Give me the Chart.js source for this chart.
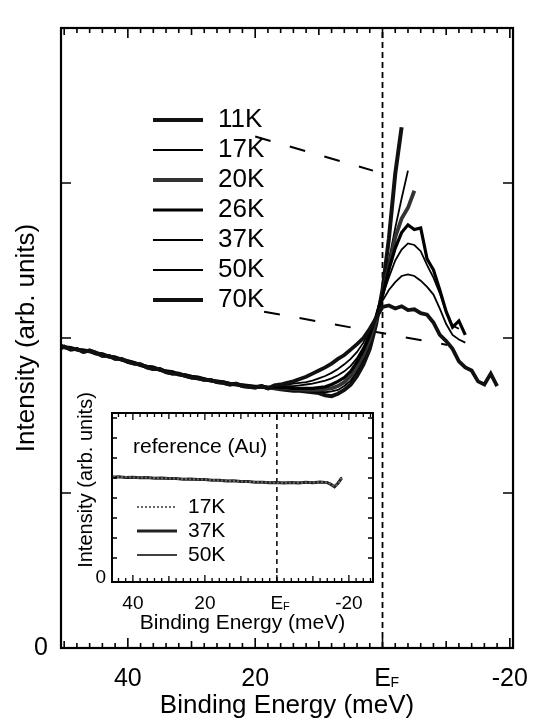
<!DOCTYPE html>
<html><head><meta charset="utf-8">
<script src="https://cdn.jsdelivr.net/npm/chart.js@4.4.0/dist/chart.umd.min.js"></script>
<style>
html,body{margin:0;padding:0;background:#fff;}
#wrap{position:relative;width:544px;height:721px;overflow:hidden;}
#main{position:absolute;left:0;top:0;}
#inset{position:absolute;left:60px;top:380px;}
</style></head><body>
<div id="wrap"><canvas id="main" width="544" height="721"></canvas><canvas id="inset" width="330" height="260"></canvas></div>
<script>
// ---------- DATA ----------
const temperatures = ['11K','17K','20K','26K','37K','50K','70K'];
const xTickValues = [40, 20, 0, -20];
const yTickValues = [0];

// common (overlapping) part of all spectra, binding energy in meV
const commonEnergy = [50.5,50,49,48,47,46,45,44,43,42,41,40,39,38,37,36,35,34,33,32,31,30,29,28,27,26,25,24,23,22,21,20,19,18];
const commonIntensity = [1.95,1.94,1.935,1.925,1.92,1.915,1.90,1.895,1.88,1.875,1.86,1.85,1.84,1.825,1.815,1.81,1.795,1.785,1.78,1.765,1.76,1.75,1.745,1.735,1.725,1.72,1.715,1.705,1.70,1.695,1.69,1.685,1.685,1.68];
const commonIntensityB = [1.935,1.945,1.925,1.93,1.91,1.92,1.905,1.885,1.885,1.865,1.865,1.845,1.835,1.83,1.81,1.80,1.80,1.78,1.77,1.77,1.755,1.745,1.74,1.73,1.73,1.715,1.71,1.70,1.705,1.69,1.685,1.68,1.69,1.675];

// temperature dependent part
const tailEnergy = [17,16,15,14,13,12,11,10,9,8,7,6,5,4,3,2,1,0,-1,-2,-3,-4,-5,-6,-7,-8,-9,-10,-11,-12,-13,-14,-15,-16,-17,-18];
const tail11K = [1.675,1.67,1.665,1.66,1.66,1.655,1.65,1.645,1.63,1.625,1.64,1.665,1.70,1.755,1.83,1.93,2.09,2.31,2.64,3.06,3.36];
const tail17K = [1.68,1.675,1.67,1.665,1.665,1.66,1.655,1.655,1.65,1.655,1.665,1.69,1.725,1.785,1.865,1.965,2.11,2.29,2.50,2.71,2.90,3.08];
const tail20K = [1.68,1.675,1.675,1.67,1.67,1.665,1.665,1.665,1.67,1.675,1.69,1.715,1.755,1.815,1.89,1.99,2.12,2.28,2.46,2.65,2.77,2.84,2.95];
const tail26K = [1.685,1.68,1.68,1.675,1.675,1.675,1.675,1.68,1.685,1.70,1.72,1.745,1.785,1.845,1.92,2.02,2.14,2.28,2.44,2.58,2.68,2.73,2.70,2.71,2.51,2.44,2.31,2.17,2.07,2.11,2.02];
const tail37K = [1.69,1.69,1.69,1.69,1.695,1.70,1.705,1.715,1.725,1.74,1.76,1.785,1.82,1.87,1.94,2.03,2.14,2.27,2.39,2.50,2.57,2.61,2.60,2.56,2.47,2.39,2.29,2.17,2.08,2.06];
const tail50K = [1.69,1.695,1.70,1.705,1.71,1.715,1.725,1.74,1.755,1.775,1.80,1.83,1.865,1.91,1.97,2.05,2.14,2.24,2.31,2.36,2.40,2.41,2.40,2.37,2.33,2.28,2.19,2.09,2.02,1.99,1.97];
const tail70K = [1.695,1.70,1.71,1.72,1.735,1.75,1.77,1.79,1.81,1.835,1.865,1.89,1.925,1.96,2.00,2.06,2.13,2.20,2.21,2.19,2.205,2.18,2.185,2.16,2.15,2.10,2.02,1.98,1.93,1.85,1.81,1.79,1.72,1.70,1.77,1.69];

// guide (dashed pointer) lines
const pointer11KEnergy = [20.0, 1.5];
const pointer11KIntensity = [3.30, 3.08];
const pointer70KEnergy = [18.6, -10.2];
const pointer70KIntensity = [2.17, 1.955];
const fermiEnergy = [0, 0];
const fermiLineMain = [0, 4];

// inset: reference (Au)
const insetTemperatures = ['17K','37K','50K'];
const insetXTicks = [40, 20, 0, -20];
const insetEnergy = [45.5,44,42,40,38,36,34,32,30,28,26,24,22,20,18,16,14,12,10,8,6,4,2,0,-2,-4,-6,-8,-10,-12,-14,-15,-16,-17,-18];
const au17K = [5.06,5.05,5.05,5.03,5.02,5.02,5.00,4.99,4.98,4.97,4.95,4.94,4.93,4.92,4.90,4.88,4.86,4.85,4.83,4.81,4.80,4.78,4.77,4.76,4.76,4.77,4.76,4.78,4.77,4.79,4.78,4.70,4.58,4.72,5.02];
const au37K = [5.04,5.06,5.03,5.04,5.01,5.03,4.99,5.00,4.97,4.98,4.94,4.95,4.92,4.93,4.89,4.89,4.85,4.86,4.82,4.82,4.79,4.79,4.76,4.77,4.75,4.78,4.75,4.79,4.76,4.80,4.77,4.68,4.56,4.75,5.00];
const au50K = [5.07,5.04,5.06,5.02,5.03,5.01,5.01,4.98,4.99,4.96,4.96,4.93,4.94,4.91,4.91,4.87,4.87,4.84,4.84,4.80,4.81,4.77,4.78,4.75,4.77,4.76,4.77,4.77,4.78,4.78,4.79,4.72,4.60,4.70,5.04];
const fermiLineInset = [-0.2, 8.25];

// ---------- HELPERS ----------
Chart.defaults.font.family = '"Liberation Sans", Arial, Helvetica, sans-serif';
Chart.defaults.color = '#000';
function pts(xs, ys){ return ys.map((y,i)=>({x:xs[i], y:y})); }
function spectrum(common, tail){ return pts(commonEnergy, common).concat(pts(tailEnergy, tail)); }

const styleOf = {
  '11K': {c:'#111', w:4.0, d:[], common:commonIntensity},
  '17K': {c:'#000', w:1.8, d:[], common:commonIntensityB},
  '20K': {c:'#333', w:3.8, d:[], common:commonIntensityB},
  '26K': {c:'#000', w:3.2, d:[], common:commonIntensity},
  '37K': {c:'#000', w:1.8, d:[], common:commonIntensityB},
  '50K': {c:'#000', w:1.8, d:[], common:commonIntensity},
  '70K': {c:'#111', w:3.8, d:[], common:commonIntensityB}
};
const tails = {'11K':tail11K,'17K':tail17K,'20K':tail20K,'26K':tail26K,'37K':tail37K,'50K':tail50K,'70K':tail70K};

const frameTicks = {
  id:'frameTicks',
  afterDraw(chart, args, o){
    const {ctx, chartArea:a} = chart; const x = chart.scales.x, y = chart.scales.y;
    ctx.save(); ctx.strokeStyle='#000'; ctx.lineWidth=o.frameWidth;
    ctx.strokeRect(a.left, a.top, a.right-a.left, a.bottom-a.top);
    ctx.lineWidth=o.tickWidth; ctx.beginPath();
    const x0 = Math.ceil(x.min/o.xStep)*o.xStep;
    for (let v=x0; v<=x.max; v+=o.xStep){
      const px = x.getPixelForValue(v); const r = Math.round(v);
      let len = o.xMinorLen;
      if (r % o.xMajor === 0) len = o.xMajorLen; else if (r % o.xMid === 0) len = o.xMidLen;
      ctx.moveTo(px, a.bottom); ctx.lineTo(px, a.bottom-len);
      ctx.moveTo(px, a.top); ctx.lineTo(px, a.top+len);
    }
    for (let v=o.yStep; v<y.max-0.01; v+=o.yStep){
      const py = y.getPixelForValue(v);
      ctx.moveTo(a.left, py); ctx.lineTo(a.left+o.yLen, py);
      ctx.moveTo(a.right, py); ctx.lineTo(a.right-o.yLen, py);
    }
    ctx.stroke();
    // subscript F for the E_F tick label
    const pf = x.getPixelForValue(0);
    ctx.fillStyle='#000'; ctx.font = o.subFont; ctx.textBaseline='alphabetic'; ctx.textAlign='left';
    ctx.fillText('F', pf + o.subDx, a.bottom + o.subDy);
    if (o.yTitle){
      ctx.save(); ctx.translate(o.yTitleX, o.yTitleY); ctx.rotate(-Math.PI/2);
      ctx.font = o.yTitleFont; ctx.textAlign='center'; ctx.textBaseline='middle';
      ctx.fillText(o.yTitle, 0, 0); ctx.restore();
    }
    ctx.restore();
  }
};

const textLegend = {
  id:'textLegend',
  afterDatasetsDraw(chart, args, o){
    const ctx = chart.ctx; ctx.save();
    if (o.note){ ctx.font=o.font; ctx.fillStyle='#000'; ctx.textBaseline='middle'; ctx.fillText(o.note, o.noteX, o.noteY); }
    o.items.forEach((lab,i)=>{
      const ds = chart.data.datasets.find(d=>d.label===lab);
      const yy = o.y0 + i*o.dy;
      ctx.strokeStyle = ds.borderColor; ctx.lineWidth = ds.borderWidth; ctx.setLineDash(ds.borderDash||[]);
      ctx.beginPath(); ctx.moveTo(o.x0, yy); ctx.lineTo(o.x1, yy); ctx.stroke();
      ctx.setLineDash([]);
      ctx.fillStyle='#000'; ctx.font=o.font; ctx.textBaseline='middle'; ctx.textAlign='left';
      ctx.fillText(lab, o.tx, yy);
    });
    ctx.restore();
  }
};

// ---------- MAIN CHART ----------
const mainSets = [];
['70K','50K','37K','26K','20K','17K','11K'].forEach(t=>{
  const s = styleOf[t];
  mainSets.push({label:t, data:spectrum(s.common, tails[t]), borderColor:s.c, borderWidth:s.w, borderDash:s.d, pointRadius:0, tension:0, fill:false});
});
mainSets.push({label:'pointer11K', data:pts(pointer11KEnergy, pointer11KIntensity), borderColor:'#000', borderWidth:2, borderDash:[16,20], pointRadius:0});
mainSets.push({label:'pointer70K', data:pts(pointer70KEnergy, pointer70KIntensity), borderColor:'#000', borderWidth:2, borderDash:[16,20], pointRadius:0});
mainSets.push({label:'EF', data:pts(fermiEnergy, fermiLineMain), borderColor:'#000', borderWidth:1.8, borderDash:[6,4], pointRadius:0});

new Chart(document.getElementById('main'), {
  type:'line',
  data:{datasets:mainSets},
  options:{
    responsive:false, animation:false, devicePixelRatio:1,
    layout:{padding:{left:0, top:8, right:13, bottom:0}},
    plugins:{legend:{display:false}, tooltip:{enabled:false},
      frameTicks:{frameWidth:2.2, tickWidth:1.6, xStep:2, xMajor:20, xMid:10, xMinorLen:5, xMidLen:7, xMajorLen:10, yStep:1, yLen:10, subFont:'14px "Liberation Sans", Arial', subDx:8, subDy:39},
      textLegend:{items:temperatures, x0:153, x1:203, tx:218, y0:120, dy:30, font:'26px "Liberation Sans", Arial'}
    },
    scales:{
      x:{type:'linear', reverse:true, min:-20.5, max:50.5,
        grid:{display:false, drawTicks:false}, border:{display:false},
        ticks:{font:{size:25}, padding:16, autoSkip:false, maxRotation:0, callback:v=> v===0 ? 'E' : String(v)},
        afterBuildTicks:s=>{ s.ticks = xTickValues.map(v=>({value:v})); },
        afterFit:s=>{ s.height = 73; },
        title:{display:true, text:'Binding Energy (meV)', font:{size:26}, padding:{top:0, bottom:0}}
      },
      y:{type:'linear', min:0, max:4,
        grid:{display:false, drawTicks:false}, border:{display:false},
        ticks:{font:{size:25}, padding:13, callback:v=> v===0 ? '0' : ''},
        afterBuildTicks:s=>{ s.ticks = yTickValues.map(v=>({value:v})); },
        afterFit:s=>{ s.width = 61; },
        title:{display:true, text:'Intensity (arb. units)', font:{size:26}, padding:{top:11, bottom:0}}
      }
    }
  },
  plugins:[frameTicks, textLegend]
});

// ---------- INSET ----------
const insetSets = [
  {label:'17K', data:pts(insetEnergy, au17K), borderColor:'#666', borderWidth:2, borderDash:[2,2], pointRadius:0},
  {label:'37K', data:pts(insetEnergy, au37K), borderColor:'#222', borderWidth:3, borderDash:[], pointRadius:0},
  {label:'50K', data:pts(insetEnergy, au50K), borderColor:'#000', borderWidth:1.5, borderDash:[], pointRadius:0},
  {label:'EF', data:pts(fermiEnergy, fermiLineInset), borderColor:'#000', borderWidth:1.5, borderDash:[5,4], pointRadius:0}
];
new Chart(document.getElementById('inset'), {
  type:'line',
  data:{datasets:insetSets},
  options:{
    responsive:false, animation:false, devicePixelRatio:1,
    layout:{padding:{left:0, top:33, right:17, bottom:0}},
    plugins:{legend:{display:false}, tooltip:{enabled:false},
      frameTicks:{frameWidth:2, tickWidth:1.3, xStep:2, xMajor:20, xMid:10, xMinorLen:4, xMidLen:6, xMajorLen:7, yStep:1, yLen:5, subFont:'11px "Liberation Sans", Arial', subDx:6, subDy:28,
        yTitle:'Intensity (arb. units)', yTitleX:26, yTitleY:100, yTitleFont:'20px "Liberation Sans", Arial'},
      textLegend:{items:insetTemperatures, x0:77, x1:117, tx:128, y0:127, dy:24, font:'21px "Liberation Sans", Arial', note:'reference (Au)', noteX:73, noteY:67}
    },
    scales:{
      x:{type:'linear', reverse:true, min:-26.7, max:45.8,
        grid:{display:false, drawTicks:false}, border:{display:false},
        ticks:{font:{size:19}, padding:10, autoSkip:false, maxRotation:0, callback:v=> v===0 ? 'E' : String(v)},
        afterBuildTicks:s=>{ s.ticks = insetXTicks.map(v=>({value:v})); },
        afterFit:s=>{ s.height = 58; },
        title:{display:true, text:'Binding Energy (meV)', font:{size:21}, padding:{top:0, bottom:4}}
      },
      y:{type:'linear', min:-0.2, max:8.25,
        grid:{display:false, drawTicks:false}, border:{display:false},
        ticks:{font:{size:19}, padding:6, callback:v=> v===0 ? '0' : ''},
        afterBuildTicks:s=>{ s.ticks = [{value:0}]; },
        afterFit:s=>{ s.width = 52; },
        title:{display:false}
      }
    }
  },
  plugins:[frameTicks, textLegend]
});
</script>
</body></html>
